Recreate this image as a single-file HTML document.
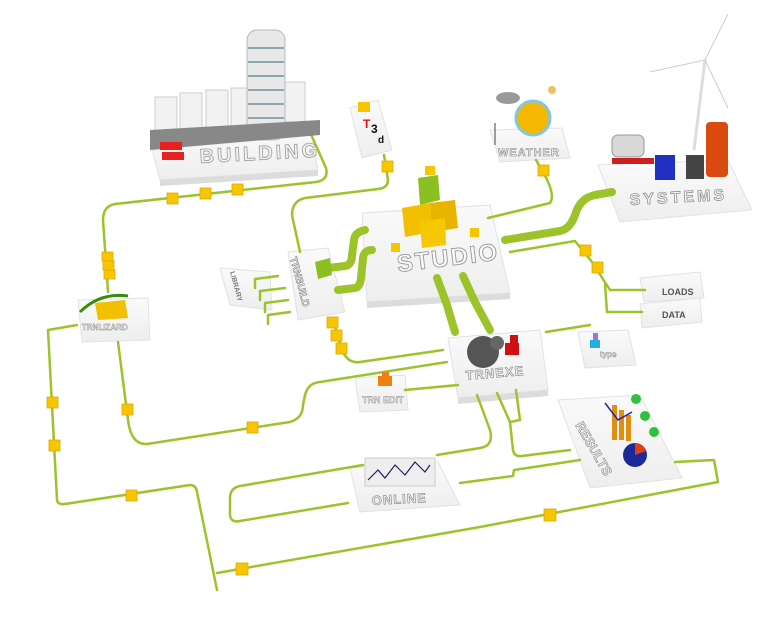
<!DOCTYPE html>
<html><head><meta charset="utf-8"><style>
html,body{margin:0;padding:0;background:#fff;}
svg{display:block;}
text{font-family:"Liberation Sans",sans-serif;font-weight:bold;}
</style></head><body>
<svg width="769" height="641" viewBox="0 0 769 641" xmlns="http://www.w3.org/2000/svg">
<defs>
<linearGradient id="plat" x1="0" y1="0" x2="0" y2="1"><stop offset="0" stop-color="#fafafa"/><stop offset="1" stop-color="#eeeeee"/></linearGradient>
</defs>
<rect width="769" height="641" fill="#fff"/>

<!-- platforms -->
<g fill="url(#plat)" stroke="#e2e2e2" stroke-width="1">
<polygon points="152,150 310,128 318,170 160,180"/>
<polygon points="350,108 378,100 392,150 362,158"/>
<polygon points="490,130 562,128 570,158 500,162"/>
<polygon points="598,165 728,160 752,210 620,222"/>
<polygon points="362,213 490,205 510,293 367,302"/>
<polygon points="288,252 328,248 345,312 298,320"/>
<polygon points="220,268 270,272 272,310 230,305"/>
<polygon points="78,300 148,298 150,340 82,342"/>
<polygon points="448,338 540,330 548,390 458,398"/>
<polygon points="578,332 628,330 636,365 585,368"/>
<polygon points="640,278 700,272 704,298 644,302"/>
<polygon points="640,304 700,298 702,322 642,328"/>
<polygon points="355,378 405,375 408,410 360,412"/>
<polygon points="558,400 640,395 682,478 590,488"/>
<polygon points="350,468 438,462 460,505 360,512"/>
</g>
<g fill="#dcdcdc">
<polygon points="160,180 318,170 318,176 160,186"/>
<polygon points="367,302 510,293 510,299 367,308"/>
<polygon points="458,398 548,390 548,396 458,404"/>
</g>

<!-- thin green connectors -->
<g fill="none" stroke="#9cc42a" stroke-width="2.5" stroke-linecap="round" stroke-linejoin="round">
<path d="M310,132 L326,168 Q329,180 316,182 L115,204 Q103,206 103,220 L108,292"/>
<path d="M384,155 L388,180 Q388,188 378,189 L305,198 Q292,201 292,215 L300,252"/>
<path d="M77,325 L48,330 L57,500 Q58,505 65,504 L190,485 Q196,485 197,492 L217,590"/>
<path d="M217,573 L480,527 L718,482 L714,460 L675,462"/>
<path d="M118,342 L128,420 Q131,445 147,444 L290,422 Q303,418 303,405 L305,395 Q308,383 320,382 L447,362"/>
<path d="M333,320 L342,350 Q348,364 360,362 L443,350"/>
<path d="M405,390 L458,385"/>
<path d="M477,395 L490,430 Q494,446 480,448 L437,455"/>
<path d="M497,393 L510,422 L520,420 L516,390 M510,422 L513,450 Q514,457 522,456 L570,450"/>
<path d="M460,483 L513,476 L514,470 L580,460"/>
<path d="M363,465 L240,486 Q230,488 230,498 L230,515 Q231,523 240,521 L348,503"/>
<path d="M546,332 L590,325"/>
<path d="M536,160 L543,172 Q556,195 550,203 L488,218"/>
<path d="M510,252 L575,241 L592,262 L610,290 L645,290 M605,284 L607,312 L642,312"/>
<path d="M278,276 L255,279 L255,288 M285,288 L260,291 L260,300 M288,300 L265,303 L265,312 M290,312 L268,315 L268,324"/>
</g>

<!-- thick pipes -->
<g fill="none" stroke="#9cc42a" stroke-width="8" stroke-linecap="round" stroke-linejoin="round">
<path d="M328,268 L345,266 Q352,265 352,255 L354,240 Q355,232 365,230"/>
<path d="M338,290 L355,288 Q360,287 361,278 L363,258 Q364,250 372,250"/>
<path d="M437,278 L447,305 L455,332"/>
<path d="M463,276 L475,302 L490,330"/>
<path d="M505,240 L560,231 Q570,229 575,215 Q580,198 595,195 L612,192"/>
</g>

<!-- yellow junction squares -->
<g fill="#f7c600" stroke="#e0a800" stroke-width="0.8">
<rect x="167" y="193" width="11" height="11"/><rect x="200" y="188" width="11" height="11"/><rect x="232" y="184" width="11" height="11"/>
<rect x="102" y="252" width="11" height="9"/><rect x="103" y="261" width="11" height="9"/><rect x="104" y="270" width="11" height="9"/>
<rect x="382" y="161" width="11" height="11"/>
<rect x="47" y="397" width="11" height="11"/><rect x="49" y="440" width="11" height="11"/><rect x="126" y="490" width="11" height="11"/>
<rect x="122" y="404" width="11" height="11"/><rect x="247" y="422" width="11" height="11"/>
<rect x="327" y="317" width="11" height="11"/><rect x="331" y="330" width="11" height="11"/><rect x="336" y="343" width="11" height="11"/>
<rect x="236" y="563" width="12" height="12"/><rect x="544" y="509" width="12" height="12"/>
<rect x="538" y="165" width="11" height="11"/>
<rect x="580" y="245" width="11" height="11"/><rect x="592" y="262" width="11" height="11"/>
</g>

<!-- BUILDING scene -->
<g>
<rect x="155" y="97" width="22" height="40" fill="#f2f2f2" stroke="#ccc"/>
<rect x="180" y="93" width="22" height="42" fill="#f2f2f2" stroke="#ccc"/>
<rect x="206" y="90" width="22" height="42" fill="#f2f2f2" stroke="#ccc"/>
<rect x="231" y="88" width="22" height="42" fill="#f2f2f2" stroke="#ccc"/>
<rect x="285" y="82" width="20" height="40" fill="#f2f2f2" stroke="#ccc"/>
<rect x="247" y="30" width="38" height="110" rx="10" fill="#e8e8e8" stroke="#b8b8b8"/>
<g stroke="#8aa8b0" stroke-width="2"><line x1="248" y1="48" x2="284" y2="48"/><line x1="248" y1="62" x2="284" y2="62"/><line x1="248" y1="76" x2="284" y2="76"/><line x1="248" y1="90" x2="284" y2="90"/><line x1="248" y1="104" x2="284" y2="104"/><line x1="248" y1="118" x2="284" y2="118"/></g>
<polygon points="150,130 320,120 320,135 150,150" fill="#888"/>
<rect x="160" y="142" width="22" height="8" fill="#e82020"/><rect x="162" y="152" width="22" height="8" fill="#e82020"/>
<text x="200" y="163" font-size="20" fill="#f4f4f4" stroke="#9a9a9a" stroke-width="0.8" letter-spacing="3" transform="rotate(-3 200 163)">BUILDING</text>
</g>
<!-- T3d -->
<rect x="358" y="102" width="12" height="10" fill="#f7c600"/>
<text x="363" y="128" font-size="12" fill="#e01010">T</text><text x="371" y="133" font-size="12" fill="#111">3</text><text x="378" y="143" font-size="10" fill="#111">d</text>

<!-- WEATHER -->
<circle cx="533" cy="118" r="17" fill="#f5b800" stroke="#7fc8e0" stroke-width="3"/>
<ellipse cx="508" cy="98" rx="12" ry="6" fill="#9a9a9a"/>
<circle cx="552" cy="90" r="4" fill="#f0c060"/>
<line x1="495" y1="123" x2="495" y2="145" stroke="#444"/>
<text x="498" y="156" font-size="11" fill="#f4f4f4" stroke="#888" stroke-width="0.6" letter-spacing="1">WEATHER</text>

<!-- SYSTEMS -->
<line x1="705" y1="60" x2="694" y2="150" stroke="#ddd" stroke-width="3"/>
<line x1="705" y1="60" x2="650" y2="72" stroke="#ccc"/><line x1="705" y1="60" x2="728" y2="14" stroke="#ccc"/><line x1="705" y1="60" x2="728" y2="108" stroke="#ccc"/>
<rect x="706" y="122" width="22" height="55" rx="4" fill="#d84a10"/>
<rect x="612" y="135" width="32" height="22" rx="6" fill="#d8d8d8" stroke="#999"/>
<rect x="612" y="158" width="42" height="6" fill="#cc2020"/>
<rect x="655" y="155" width="20" height="25" fill="#2030c0"/>
<rect x="686" y="155" width="18" height="24" fill="#444"/>
<text x="630" y="205" font-size="16" fill="#f4f4f4" stroke="#888" stroke-width="0.7" letter-spacing="3" transform="rotate(-3 630 205)">SYSTEMS</text>

<!-- STUDIO -->
<polygon points="418,178 438,175 440,200 420,205" fill="#8cbf20"/>
<polygon points="402,208 430,203 432,232 405,237" fill="#f2c000"/>
<polygon points="430,203 455,200 458,228 432,232" fill="#e8b400"/>
<polygon points="420,222 445,218 446,245 422,248" fill="#f5c800"/>
<rect x="425" y="166" width="10" height="9" fill="#f7c600"/>
<rect x="470" y="228" width="9" height="9" fill="#f7c600"/><rect x="391" y="243" width="9" height="9" fill="#f7c600"/>
<text x="398" y="272" font-size="24" fill="#fafafa" stroke="#999" stroke-width="0.9" letter-spacing="2" transform="rotate(-7 398 272)">STUDIO</text>

<!-- TRNBUILD / LIBRARY -->
<polygon points="315,262 330,258 332,275 318,279" fill="#8cbf20"/>
<text x="290" y="258" font-size="10" fill="#eee" stroke="#777" stroke-width="0.5" transform="rotate(75 290 258)">TRNBUILD</text>
<text x="230" y="272" font-size="7" fill="#777" font-weight="normal" transform="rotate(75 230 272)">LIBRARY</text>

<!-- TRNLIZARD -->
<polygon points="95,303 125,300 128,318 98,320" fill="#f2c000"/>
<path d="M80,312 Q100,292 128,296" fill="none" stroke="#3a8a10" stroke-width="3"/>
<text x="82" y="330" font-size="8" fill="#eee" stroke="#888" stroke-width="0.4">TRNLIZARD</text>

<!-- TRNEXE -->
<circle cx="483" cy="352" r="16" fill="#555"/>
<circle cx="497" cy="343" r="7" fill="#666"/>
<rect x="505" y="343" width="14" height="12" fill="#d01010"/><rect x="510" y="335" width="8" height="8" fill="#d01010"/>
<text x="466" y="380" font-size="13" fill="#f4f4f4" stroke="#888" stroke-width="0.6" letter-spacing="1" transform="rotate(-5 466 380)">TRNEXE</text>

<!-- TYPE STUDIO -->
<rect x="590" y="340" width="10" height="8" fill="#20b0e0"/><rect x="593" y="333" width="5" height="7" fill="#a070e0"/>
<text x="600" y="357" font-size="8" fill="#eee" stroke="#888" stroke-width="0.4">type</text>

<!-- LOADS / DATA -->
<text x="662" y="295" font-size="9" fill="#555" font-weight="normal">LOADS</text>
<text x="662" y="318" font-size="9" fill="#555" font-weight="normal">DATA</text>

<!-- EDIT -->
<rect x="378" y="376" width="14" height="10" fill="#f08010"/><rect x="382" y="372" width="7" height="6" fill="#f08010"/>
<text x="362" y="403" font-size="9" fill="#eee" stroke="#888" stroke-width="0.4">TRN EDIT</text>

<!-- RESULTS -->
<rect x="612" y="405" width="5" height="35" fill="#e09010"/><rect x="619" y="410" width="5" height="30" fill="#e09010"/><rect x="626" y="415" width="5" height="26" fill="#e09010"/>
<path d="M605,403 L618,420 L632,412" fill="none" stroke="#2020c0" stroke-width="1.5"/>
<circle cx="635" cy="455" r="12" fill="#1a2a9a"/><path d="M635,455 L635,443 A12,12 0 0 1 646,451 Z" fill="#e04010"/>
<g fill="#30c040"><circle cx="636" cy="399" r="5"/><circle cx="645" cy="416" r="5"/><circle cx="654" cy="432" r="5"/></g>
<text x="575" y="425" font-size="13" fill="#eee" stroke="#888" stroke-width="0.6" transform="rotate(60 575 425)">RESULTS</text>

<!-- ONLINE -->
<rect x="365" y="458" width="70" height="28" fill="#eee" stroke="#ccc"/>
<path d="M368,480 L378,470 L385,478 L395,465 L405,475 L415,462 L425,472 L430,465" fill="none" stroke="#202060" stroke-width="1.2"/>
<text x="372" y="505" font-size="13" fill="#eee" stroke="#888" stroke-width="0.6" letter-spacing="1" transform="rotate(-3 372 505)">ONLINE</text>
</svg>
</body></html>
